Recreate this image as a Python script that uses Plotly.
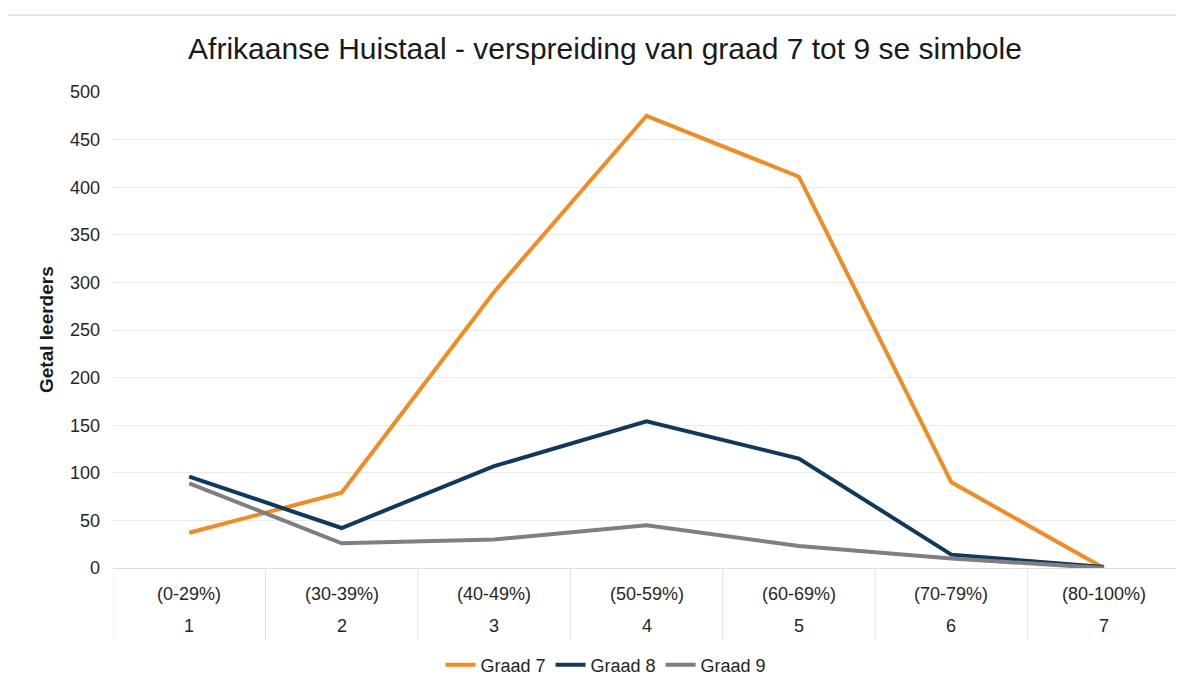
import plotly.graph_objects as go

ranges = ["(0-29%)", "(30-39%)", "(40-49%)", "(50-59%)", "(60-69%)", "(70-79%)", "(80-100%)"]
levels = ["1", "2", "3", "4", "5", "6", "7"]
graad7 = [37, 79, 290, 475, 411, 90, 0]
graad8 = [96, 42, 107, 154, 115, 14, 1]
graad9 = [89, 26, 30, 45, 23, 10, 0]

series = [("Graad 7", graad7, "#F58A20"), ("Graad 8", graad8, "#0E3A5F"), ("Graad 9", graad9, "#7F7F81")]

W, H = 1176, 678          # page body has an 8px margin
L, R, T, B = 105, 4, 84, 118
PLOT_W = W - L - R
PLOT_H = H - T - B
def py(px_below):
    return -px_below / PLOT_H

fig = go.Figure()
for name, vals, col in series:
    fig.add_trace(go.Scatter(x=ranges, y=vals, mode="lines", name=name,
                             line=dict(color=col, width=4)))

fig.update_layout(
    width=W, height=H,
    margin=dict(l=L, r=R, t=T, b=B, autoexpand=False),
    paper_bgcolor="white", plot_bgcolor="white",
    font=dict(family="Liberation Sans, Arial, sans-serif", size=18, color="#262626"),
    title=dict(text="Afrikaanse Huistaal - verspreiding van graad 7 tot 9 se simbole",
               x=597 / W, xanchor="center", y=1 - 40 / H, yanchor="middle",
               font=dict(size=30, color="#1a1a1a")),
    legend=dict(orientation="h", x=(598 - L) / PLOT_W, xanchor="center", y=py(97),
                yanchor="middle", font=dict(size=18), itemwidth=30, tracegroupgap=0),
    showlegend=True,
)
fig.update_xaxes(type="category", categoryorder="array", categoryarray=ranges,
                 range=[-0.5, 6.5], showgrid=False, showline=True, linecolor="#E0E0E0",
                 linewidth=1, ticks="", showticklabels=False, zeroline=False)
fig.update_yaxes(range=[0, 500], dtick=50, showgrid=True, gridcolor="#EBEBEB", gridwidth=1,
                 zeroline=False, showline=False, tickfont=dict(size=18), ticks="",
                 ticklabelstandoff=12)

annotations = []
for r, l in zip(ranges, levels):
    annotations.append(dict(x=r, xref="x", y=py(26), yref="paper", text=r, showarrow=False,
                            xanchor="center", yanchor="middle", font=dict(size=18)))
    annotations.append(dict(x=r, xref="x", y=py(58), yref="paper", text=l, showarrow=False,
                            xanchor="center", yanchor="middle", font=dict(size=18)))
annotations.append(dict(x=(38 - L) / PLOT_W, xref="paper", y=0.5, yref="paper",
                        text="<b>Getal leerders</b>", textangle=-90, showarrow=False,
                        xanchor="center", yanchor="middle", font=dict(size=19, color="#1a1a1a")))
fig.update_layout(annotations=annotations)

shapes = []
for k in range(len(ranges) + 1):
    shapes.append(dict(type="line", xref="x", yref="paper", x0=k - 0.5, x1=k - 0.5,
                       y0=0, y1=py(72), line=dict(color="#E0E3E6", width=1)))
shapes.append(dict(type="line", xref="paper", yref="paper", x0=-L / PLOT_W, x1=(W - L) / PLOT_W,
                   y0=1 + (T - 7) / PLOT_H, y1=1 + (T - 7) / PLOT_H,
                   line=dict(color="#E6E6E6", width=2)))
fig.update_layout(shapes=shapes)

fig.write_html("out.html")
